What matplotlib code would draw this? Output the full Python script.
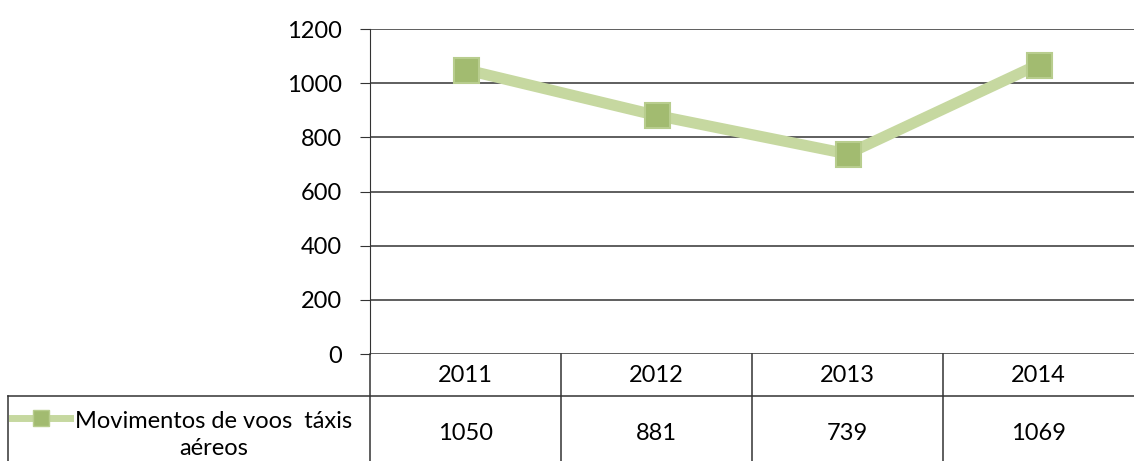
import matplotlib.pyplot as plt
from matplotlib.lines import Line2D

plt.rcParams['font.family'] = ['Lato', 'DejaVu Sans']

years = ['2011', '2012', '2013', '2014']
movimentos = [1050, 881, 739, 1069]
serie_label = 'Movimentos de voos  táxis\naéreos'

line_color = '#c6d8a0'
marker_color = '#a2bb70'

fig = plt.figure(figsize=(11.34, 4.61), dpi=100)
ax = fig.add_axes([0.3263, 0.232, 0.6737, 0.705])

x = range(len(years))
ax.plot(x, movimentos, color=line_color, lw=8, solid_capstyle='round', zorder=3)
ax.plot(x, movimentos, ls='none', marker='s', ms=18, mfc=marker_color,
        mec='#b8cd8e', mew=1.5, zorder=4)

ax.set_xlim(-0.5, 3.5)
ax.set_ylim(0, 1200)
ax.set_yticks(range(0, 1201, 200))
ax.yaxis.grid(True, color='#333333', lw=1.1)
ax.set_axisbelow(True)
ax.set_xticks([])
for s in ['top', 'right', 'bottom']:
    ax.spines[s].set_visible(False)
ax.spines['left'].set_color('#333333')
ax.tick_params(axis='y', length=7, color='#333333', labelsize=17, pad=13)

# data table under the plot
tr = ax.transAxes
px = 1 / 325.0  # axes height in pixels
row1 = -42 * px
row2 = -115 * px
left_edge = (8 - 370) / 764.0
kw = dict(transform=tr, clip_on=False, color='#333333', lw=1.1)
ax.add_line(Line2D([0, 0], [0, row2], **kw))
ax.add_line(Line2D([left_edge, 1], [row1, row1], **kw))
ax.add_line(Line2D([left_edge, left_edge], [row1, row2], **kw))
for i in range(1, len(years)):
    xb = i / len(years)
    ax.add_line(Line2D([xb, xb], [0, row2], **kw))

for i, (yr, v) in enumerate(zip(years, movimentos)):
    xc = (i + 0.5) / len(years)
    ax.text(xc, -21 * px, yr, transform=tr, ha='center', va='center', fontsize=17)
    ax.text(xc, -79 * px, str(v), transform=tr, ha='center', va='center', fontsize=17)

# legend key and series label in the row header
lx0 = (12 - 370) / 764.0
lx1 = (70 - 370) / 764.0
ly = -64 * px
ax.add_line(Line2D([lx0, lx1], [ly, ly], transform=tr, clip_on=False,
                   color=line_color, lw=5))
ax.add_line(Line2D([(lx0 + lx1) / 2], [ly], transform=tr, clip_on=False,
                   ls='none', marker='s', ms=11, mfc=marker_color, mec='#b8cd8e'))
ax.text((214 - 370) / 764.0, -81 * px, serie_label, transform=tr, ha='center',
        va='center', fontsize=17, linespacing=1.35)

fig.savefig('out.png', dpi=100)
